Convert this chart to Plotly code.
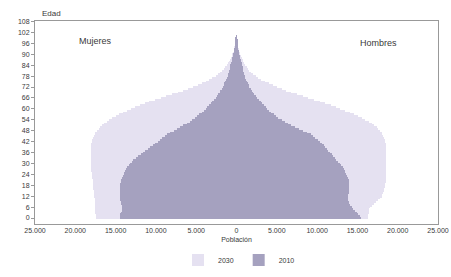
import plotly.graph_objects as go

ages = list(range(0, 101))

# Population in thousands (single years of age 0..100)
mujeres_2010 = [
    14.5, 14.5, 14.4, 14.3, 14.2, 14.2, 14.2, 14.2, 14.3, 14.3,
    14.4, 14.4, 14.4, 14.5, 14.5, 14.5, 14.5, 14.4, 14.4, 14.4,
    14.3, 14.3, 14.2, 14.1, 14.0, 13.9, 13.8, 13.7, 13.6, 13.4,
    13.2, 13.0, 12.8, 12.5, 12.2, 11.9, 11.6, 11.3, 11.0, 10.7,
    10.4, 10.1, 9.8, 9.5, 9.2, 8.9, 8.6, 8.2, 7.8, 7.4,
    7.0, 6.6, 6.2, 5.8, 5.5, 5.2, 4.9, 4.6, 4.3, 4.0,
    3.8, 3.6, 3.4, 3.2, 3.0, 2.8, 2.6, 2.4, 2.3, 2.1,
    2.0, 1.85, 1.7, 1.6, 1.5, 1.4, 1.3, 1.2, 1.1, 1.0,
    0.95, 0.9, 0.85, 0.8, 0.75, 0.7, 0.62, 0.55, 0.5, 0.45,
    0.4, 0.35, 0.3, 0.26, 0.22, 0.19, 0.16, 0.13, 0.1, 0.08,
    0.06,
]
hombres_2010 = [
    15.5, 15.3, 15.1, 14.9, 14.7, 14.5, 14.3, 14.1, 14.0, 13.9,
    13.8, 13.8, 13.8, 13.8, 13.9, 13.9, 14.0, 14.0, 14.0, 14.0,
    13.9, 13.9, 13.8, 13.7, 13.6, 13.5, 13.4, 13.3, 13.2, 13.0,
    12.8, 12.6, 12.4, 12.2, 12.0, 11.8, 11.6, 11.4, 11.2, 11.0,
    10.8, 10.6, 10.4, 10.1, 9.8, 9.5, 9.2, 8.8, 8.3, 7.8,
    7.3, 6.8, 6.4, 6.0, 5.6, 5.2, 4.9, 4.6, 4.3, 4.0,
    3.8, 3.6, 3.4, 3.2, 3.0, 2.8, 2.6, 2.4, 2.2, 2.0,
    1.9, 1.75, 1.6, 1.5, 1.4, 1.3, 1.2, 1.1, 1.0, 0.95,
    0.9, 0.85, 0.8, 0.75, 0.7, 0.65, 0.58, 0.5, 0.45, 0.4,
    0.35, 0.3, 0.26, 0.22, 0.19, 0.16, 0.13, 0.1, 0.08, 0.06,
    0.05,
]
mujeres_2030 = [
    17.4, 17.4, 17.4, 17.5, 17.5, 17.5, 17.5, 17.6, 17.6, 17.6,
    17.6, 17.6, 17.7, 17.7, 17.7, 17.7, 17.8, 17.8, 17.8, 17.8,
    17.8, 17.8, 17.9, 17.9, 17.9, 17.9, 18.0, 18.0, 18.0, 18.0,
    18.0, 18.0, 18.0, 18.0, 18.0, 18.0, 18.0, 18.0, 18.0, 18.0,
    18.0, 18.0, 17.9, 17.9, 17.8, 17.7, 17.6, 17.5, 17.3, 17.1,
    16.9, 16.7, 16.4, 16.1, 15.8, 15.4, 15.0, 14.6, 14.1, 13.6,
    13.1, 12.6, 12.0, 11.4, 10.8, 10.1, 9.4, 8.7, 8.0, 7.3,
    6.6, 6.0, 5.4, 4.8, 4.3, 3.8, 3.4, 3.0, 2.6, 2.3,
    2.0, 1.8, 1.6, 1.4, 1.2, 1.05, 0.9, 0.8, 0.7, 0.6,
    0.5, 0.42, 0.35, 0.3, 0.25, 0.2, 0.16, 0.12, 0.09, 0.07,
    0.05,
]
hombres_2030 = [
    16.3, 16.3, 16.3, 16.4, 16.4, 16.5, 16.6, 16.8, 17.0, 17.3,
    17.6, 17.8, 18.0, 18.1, 18.2, 18.3, 18.3, 18.4, 18.4, 18.4,
    18.5, 18.5, 18.5, 18.5, 18.5, 18.5, 18.5, 18.5, 18.5, 18.5,
    18.5, 18.5, 18.5, 18.5, 18.5, 18.5, 18.5, 18.5, 18.5, 18.5,
    18.5, 18.5, 18.4, 18.4, 18.3, 18.2, 18.1, 18.0, 17.8, 17.6,
    17.4, 17.1, 16.8, 16.4, 16.0, 15.6, 15.1, 14.6, 14.1, 13.5,
    12.9, 12.3, 11.7, 11.0, 10.3, 9.6, 8.9, 8.2, 7.5, 6.8,
    6.2, 5.6, 5.0, 4.5, 4.0, 3.5, 3.1, 2.7, 2.4, 2.1,
    1.85, 1.6, 1.4, 1.25, 1.1, 0.95, 0.85, 0.75, 0.65, 0.55,
    0.45, 0.38, 0.32, 0.27, 0.22, 0.18, 0.14, 0.11, 0.08, 0.06,
    0.04,
]

x_tickvals = [-25000, -20000, -15000, -10000, -5000, 0, 5000, 10000, 15000, 20000, 25000]
x_ticktext = ["25.000", "20.000", "15.000", "10.000", "5.000", "0",
              "5.000", "10.000", "15.000", "20.000", "25.000"]
y_tickvals = list(range(0, 109, 6))

color_2030 = "#e5e1f1"
color_2010 = "#a5a1bf"
FONT = "Liberation Sans"
TXT = "#3a3a3a"

W, H = 451, 277
ML, MR, MT, MB = 35, 13, 21, 53

fig = go.Figure()
for year, muj, hom, col in [("2030", mujeres_2030, hombres_2030, color_2030),
                            ("2010", mujeres_2010, hombres_2010, color_2010)]:
    fig.add_trace(go.Bar(
        y=ages, x=[-v * 1000 for v in muj], orientation="h",
        marker=dict(color=col, line=dict(width=0)),
        name=year, legendgroup=year, showlegend=False,
    ))
    fig.add_trace(go.Bar(
        y=ages, x=[v * 1000 for v in hom], orientation="h",
        marker=dict(color=col, line=dict(width=0)),
        name=year, legendgroup=year, showlegend=True,
    ))

pw, ph = W - ML - MR, H - MT - MB


def px(xp, yp):
    return (xp - ML) / pw, (H - MB - yp) / ph


labels = [("Edad", 51, 13, 8), ("Mujeres", 95, 41, 9), ("Hombres", 378, 43, 9)]
annotations = []
for text, xp, yp, size in labels:
    ax, ay = px(xp, yp)
    annotations.append(dict(text=text, x=ax, y=ay, xref="paper", yref="paper",
                            xanchor="center", yanchor="middle",
                            showarrow=False, font=dict(size=size, color=TXT, family=FONT)))

leg_x, leg_y = px(239, 260)

fig.update_layout(
    width=W, height=H,
    margin=dict(l=ML, r=MR, t=MT, b=MB, autoexpand=False),
    paper_bgcolor="white", plot_bgcolor="white",
    barmode="overlay", bargap=0,
    font=dict(family=FONT, size=7, color=TXT),
    legend=dict(orientation="h", x=leg_x, xanchor="center", y=leg_y, yanchor="middle",
                font=dict(size=7), itemwidth=30, traceorder="normal",
                bgcolor="rgba(0,0,0,0)"),
    xaxis=dict(range=[-25000, 25000], tickvals=x_tickvals, ticktext=x_ticktext,
               showgrid=False, zeroline=False, showline=True, linecolor="#999999",
               linewidth=1, mirror=True, ticks="", tickfont=dict(size=7), automargin=False,
               title=dict(text="Población", font=dict(size=7), standoff=3)),
    yaxis=dict(range=[-3.3, 108.3], tickvals=y_tickvals, showgrid=False, zeroline=False,
               showline=True, linecolor="#999999", linewidth=1, mirror=True,
               ticks="outside", ticklen=3, tickcolor="#999999", tickfont=dict(size=7),
               automargin=False),
    annotations=annotations,
)

fig.write_html(
    "out.html",
    config={"displayModeBar": False},
    post_script="document.body.style.margin='0';document.body.style.overflow='hidden';",
)
